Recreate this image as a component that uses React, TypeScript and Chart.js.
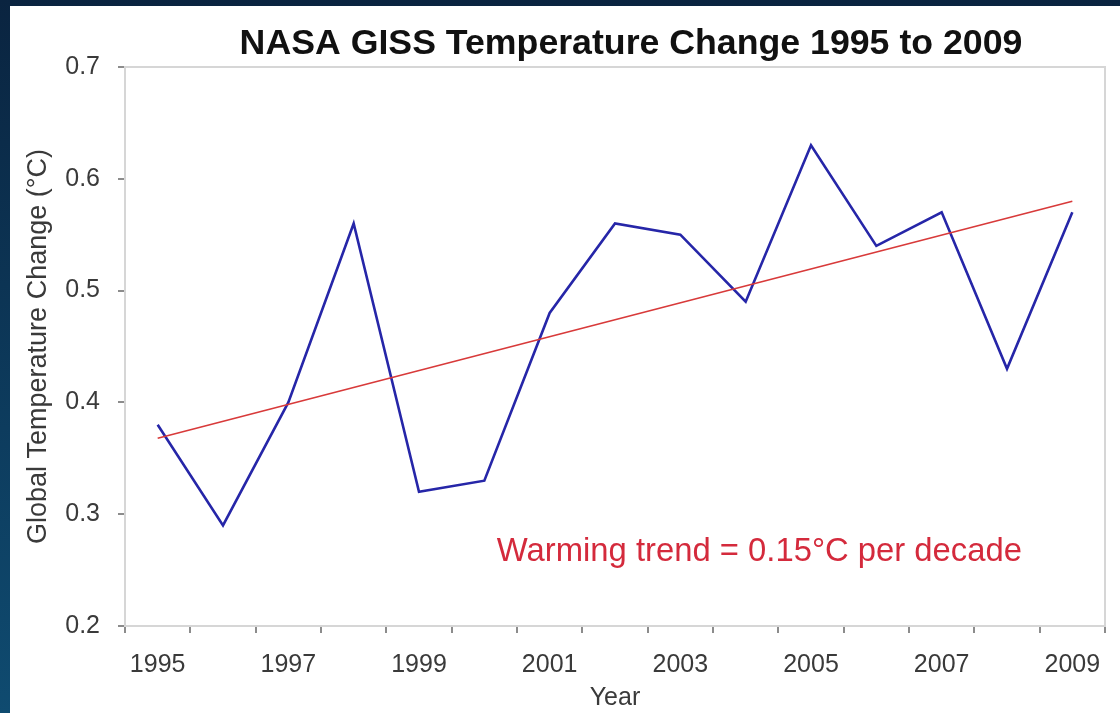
import React, { useEffect, useRef } from "react";
import { Chart, registerables } from "chart.js";

Chart.register(...registerables);

const YEARS = ["1995","1996","1997","1998","1999","2000","2001","2002","2003","2004","2005","2006","2007","2008","2009"];
const TEMPERATURE = [0.38, 0.29, 0.40, 0.56, 0.32, 0.33, 0.48, 0.56, 0.55, 0.49, 0.63, 0.54, 0.57, 0.43, 0.57];
const TREND = [0.368, null, null, null, null, null, null, null, null, null, null, null, null, null, 0.580];
const TITLE = "NASA GISS Temperature Change 1995 to 2009";
const ANNOTATION = "Warming trend = 0.15°C per decade";
const ANNOTATION_AT = { index: 9.21, value: 0.266 };
const Y_TITLE = "Global Temperature Change (°C)";
const X_TITLE = "Year";

const FONT = "'Liberation Sans', Arial, sans-serif";

export default function App() {
  const ref = useRef<HTMLCanvasElement | null>(null);

  useEffect(() => {
    if (!ref.current) return;
    const framePlugin = {
      id: "frame",
      beforeDatasetsDraw(chart: any) {
        const { ctx, chartArea } = chart;
        ctx.save();
        ctx.strokeStyle = "#d6d6d6";
        ctx.lineWidth = 2;
        ctx.strokeRect(chartArea.left, chartArea.top, chartArea.right - chartArea.left, chartArea.bottom - chartArea.top);
        ctx.restore();
      },
      afterDraw(chart: any) {
        const { ctx, chartArea, scales } = chart;
        ctx.save();
        ctx.fillStyle = "#111111";
        ctx.font = `bold 35.7px ${FONT}`;
        ctx.textAlign = "center";
        ctx.textBaseline = "middle";
        ctx.fillText(TITLE, (chartArea.left + chartArea.right) / 2 + 16, 38);
        ctx.fillStyle = "#d42a3c";
        ctx.font = `32.8px ${FONT}`;
        ctx.fillText(ANNOTATION, scales.x.getPixelForValue(ANNOTATION_AT.index), scales.y.getPixelForValue(ANNOTATION_AT.value));
        ctx.restore();
      },
    };

    const chart = new Chart(ref.current, {
      type: "line",
      data: {
        labels: YEARS,
        datasets: [
          {
            data: TREND,
            borderColor: "#d83a3a",
            borderWidth: 1.6,
            pointRadius: 0,
            spanGaps: true,
            tension: 0,
          },
          {
            data: TEMPERATURE,
            borderColor: "#2626a8",
            borderWidth: 2.6,
            pointRadius: 0,
            tension: 0,
          },
        ],
      },
      options: {
        responsive: false,
        animation: false,
        devicePixelRatio: 1,
        layout: { padding: { top: 61, right: 15, left: 0, bottom: 0 } },
        plugins: { legend: { display: false }, tooltip: { enabled: false }, title: { display: false } },
        scales: {
          x: {
            offset: true,
            grid: { offset: true, drawOnChartArea: false, tickLength: 7, color: "#8c8c8c", lineWidth: 2 },
            border: { color: "#8c8c8c", width: 2 },
            ticks: {
              autoSkip: false,
              maxRotation: 0,
              padding: 17,
              color: "#3a3a3a",
              font: { family: FONT, size: 25 },
              callback: (_v: any, i: number) => (i % 2 === 0 ? YEARS[i] : ""),
            },
            title: { display: true, text: X_TITLE, color: "#3a3a3a", font: { family: FONT, size: 25 }, padding: { top: 0, bottom: 0 } },
            afterFit: (s: any) => { s.height = 87; },
          },
          y: {
            min: 0.2,
            max: 0.7,
            grid: { drawOnChartArea: false, tickLength: 7, color: "#8c8c8c", lineWidth: 2 },
            border: { color: "#8c8c8c", width: 2 },
            ticks: {
              stepSize: 0.1,
              padding: 18,
              color: "#3a3a3a",
              font: { family: FONT, size: 25 },
              callback: (v: any) => Number(v).toFixed(1),
            },
            title: { display: true, text: Y_TITLE, color: "#3a3a3a", font: { family: FONT, size: 27 }, padding: { top: 12, bottom: 0 } },
            afterFit: (s: any) => { s.width = 115; },
          },
        },
      },
      plugins: [framePlugin],
    });
    return () => chart.destroy();
  }, []);

  return (
    <div style={{ position: "fixed", left: 0, top: 0, width: 1120, height: 713, background: "linear-gradient(to bottom, #0a2440 0%, #0d3c5e 60%, #0f4b70 100%)", overflow: "hidden" }}>
      <div style={{ position: "absolute", left: 10, top: 6, width: 1110, height: 707, background: "#ffffff" }}>
        <canvas ref={ref} width={1110} height={707} style={{ display: "block" }} />
      </div>
    </div>
  );
}
